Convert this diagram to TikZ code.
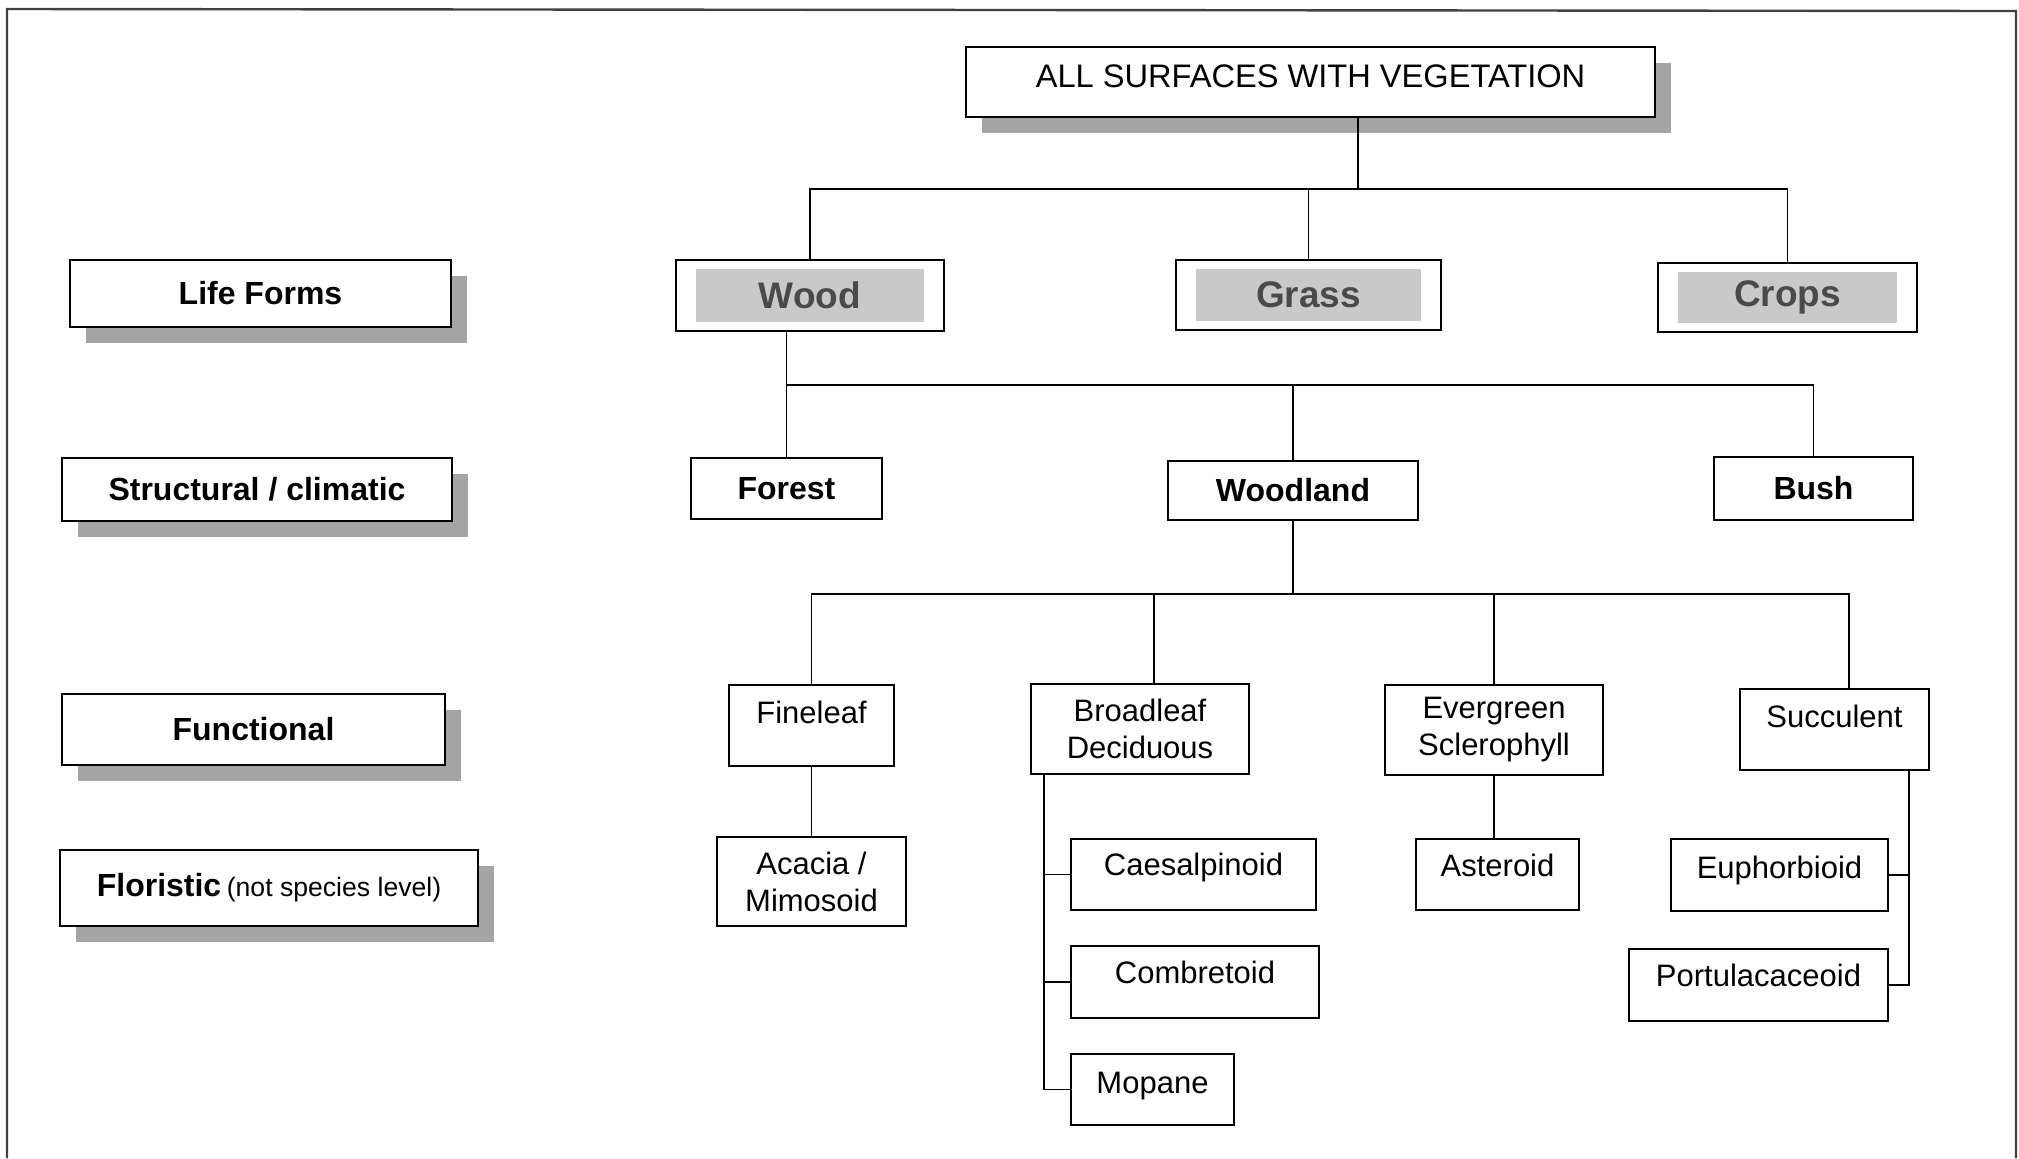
\documentclass[tikz,border=0pt]{standalone}
\usepackage{fontspec}
\setmainfont{Liberation Sans}
\usetikzlibrary{shadows}
\definecolor{shade}{HTML}{A4A4A4}
\definecolor{lifefill}{HTML}{C9C9C9}
\definecolor{lifetext}{HTML}{4A4A4A}
\tikzset{
  box/.style={draw=black, line width=0.8pt, fill=white, inner sep=0pt, align=center},
  sbox/.style={box, drop shadow={shadow xshift=8pt, shadow yshift=-8pt, fill=shade, opacity=1}},
  reg/.style={font=\fontsize{15.5}{18.5}\selectfont},
  bld/.style={font=\fontsize{16}{19}\selectfont\bfseries},
  lifebox/.style={box, text=lifetext, font=\fontsize{18.5}{21}\selectfont\bfseries,
    path picture={\fill[lifefill] ([xshift=10pt,yshift=-4.5pt]path picture bounding box.north west) rectangle ([xshift=-10pt,yshift=4.5pt]path picture bounding box.south east);}},
  raised/.style 2 args={text height=#1, text depth=#2, inner ysep=0pt},
  conn/.style={draw=black, line width=0.7pt},
  frame/.style={draw=black!75, line width=1.2pt}
}
\begin{document}
\begin{tikzpicture}[x=0.5pt,y=-0.5pt]
\useasboundingbox (0,0) rectangle (2019,1158);
\draw[frame] (7,1158) -- (7,9) -- (2016,11) -- (2016,1158);

% top
\node[sbox, anchor=north, minimum width=344.5pt, raised={20.25pt}{14.75pt}, font=\fontsize{16.3}{19}\selectfont] (topbox) at (1310.5,46) {ALL SURFACES WITH VEGETATION};

% left labels
\node[sbox, bld, minimum width=190.5pt, minimum height=33.5pt] (lifeforms) at (260.5,293.5) {Life Forms};
\node[sbox, bld, minimum width=195pt, minimum height=31.5pt] (structural) at (257,489.5) {Structural / climatic};
\node[sbox, bld, minimum width=191.5pt, minimum height=35.5pt] (functional) at (253.5,729.5) {Functional};
\node[sbox, minimum width=209pt, minimum height=38pt] (floristic) at (269,888) {{\fontsize{16}{19}\selectfont\bfseries Floristic} {\fontsize{13.3}{16}\selectfont (not species level)}};

% life forms
\node[lifebox, minimum width=134pt, minimum height=35.5pt] (wood) at (810,295.5) {Wood};
\node[lifebox, minimum width=132.5pt, minimum height=35pt] (grass) at (1308.5,295) {Grass};
\node[lifebox, minimum width=129.5pt, minimum height=34.5pt] (crops) at (1787.5,297.5) {Crops};

% structural
\node[box, bld, minimum width=95.5pt, minimum height=30.5pt] (forest) at (786.5,488.5) {Forest};
\node[box, bld, minimum width=125pt, minimum height=29.5pt] (woodland) at (1293,490.5) {Woodland};
\node[box, bld, minimum width=99.5pt, minimum height=31.5pt] (bush) at (1813.5,488.5) {Bush};

% functional
\node[box, reg, anchor=north, minimum width=82.5pt, raised={19.5pt}{21pt}] (fine) at (811.5,684) {Fineleaf};
\node[box, reg, minimum width=109pt, minimum height=45pt] (broad) at (1140,729) {Broadleaf\\Deciduous};
\node[box, reg, minimum width=109pt, minimum height=45pt] (eve) at (1494,730) {Evergreen\\Sclerophyll};
\node[box, reg, anchor=north, minimum width=94.5pt, raised={19.5pt}{21pt}] (succ) at (1834.5,688) {Succulent};

% floristic
\node[box, reg, minimum width=94.5pt, minimum height=44.5pt] (acacia) at (811.5,881.5) {Acacia /\\Mimosoid};
\node[box, reg, anchor=north, minimum width=122.5pt, raised={18.5pt}{17pt}] (caes) at (1193.5,838) {Caesalpinoid};
\node[box, reg, anchor=north, minimum width=124pt, raised={19pt}{17pt}] (comb) at (1195,945) {Combretoid};
\node[box, reg, anchor=north, minimum width=81.5pt, raised={20pt}{15.5pt}] (mopane) at (1152.5,1053) {Mopane};
\node[box, reg, anchor=north, minimum width=81.5pt, raised={19pt}{16.5pt}] (aster) at (1497.5,838) {Asteroid};
\node[box, reg, anchor=north, minimum width=108.5pt, raised={20pt}{16pt}] (euph) at (1779.5,838) {Euphorbioid};
\node[box, reg, anchor=north, minimum width=129.5pt, raised={19pt}{17pt}] (port) at (1758.5,948) {Portulacaceoid};

% junctions
\coordinate (j0) at (1358,189);
\coordinate (j1) at (785,385);
\coordinate (j2) at (1290,594);
\coordinate (s2) at (1154,594);
\coordinate (s4) at (1849,594);
\coordinate (bd) at (1044,800);
\coordinate (sc) at (1909,800);

% connectors
\draw[conn] (topbox.south -| j0) -- (j0);
\draw[conn] (wood.north) -- (wood.north |- j0) -- (crops.north |- j0) -- (crops.north);
\draw[conn] (grass.north) -- (grass.north |- j0);

\draw[conn] (wood.south -| forest.north) -- (forest.north);
\draw[conn] (forest.north |- j1) -- (bush.north |- j1) -- (bush.north);
\draw[conn] (woodland.north) -- (woodland.north |- j1);

\draw[conn] (woodland.south) -- (woodland.south |- j2);
\draw[conn] (fine.north) -- (fine.north |- j2) -- (s4) -- (s4 |- succ.north);
\draw[conn] (s2) -- (s2 |- broad.north);
\draw[conn] (eve.north) -- (eve.north |- j2);

\draw[conn] (fine.south) -- (acacia.north);
\draw[conn] (eve.south) -- (aster.north -| eve.south);
\draw[conn] (broad.south -| bd) -- (bd |- mopane.west) -- (mopane.west);
\draw[conn] (bd |- caes.west) -- (caes.west);
\draw[conn] (bd |- comb.west) -- (comb.west);
\draw[conn] (succ.south -| sc) -- (sc |- port.east) -- (port.east);
\draw[conn] (sc |- euph.east) -- (euph.east);
\end{tikzpicture}
\end{document}
